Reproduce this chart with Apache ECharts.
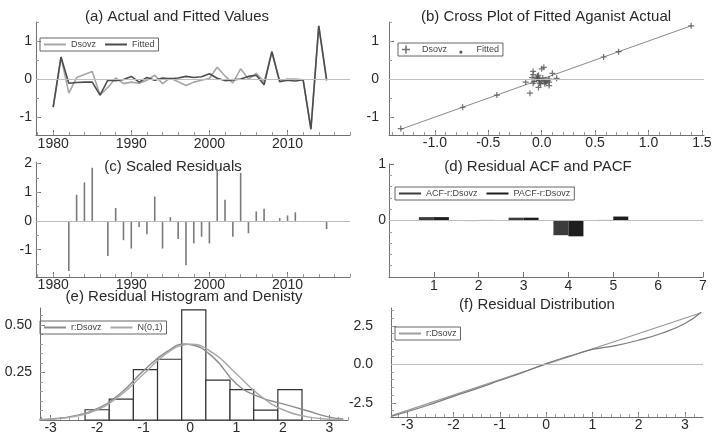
<!DOCTYPE html>
<html><head><meta charset="utf-8">
<script src="https://cdn.jsdelivr.net/npm/echarts@6/dist/echarts.min.js"></script>
<style>html,body{margin:0;padding:0;background:#fff}#c{width:715px;height:436px}</style>
</head><body><div id="c"></div>
<script>
// ---------- data ----------
const years = [1980,1981,1982,1983,1984,1985,1986,1987,1988,1989,1990,1991,1992,1993,1994,1995,1996,1997,1998,1999,2000,2001,2002,2003,2004,2005,2006,2007,2008,2009,2010,2011,2012,2013,2014,2015];
const dsovz = [-0.74,0.58,-0.37,0.04,0.12,0.20,-0.42,-0.22,0.03,-0.12,-0.08,-0.11,-0.03,0.10,-0.12,0.03,-0.07,-0.17,-0.08,-0.03,0.02,0.31,0.08,-0.10,0.27,0.00,0.15,-0.08,0.72,-0.06,0.00,0.00,-0.02,-1.30,1.40,-0.05];
const fitted = [-0.74,0.58,-0.11,-0.09,-0.08,-0.08,-0.42,-0.03,-0.04,-0.01,0.07,-0.08,0.04,-0.03,0.03,0.01,0.03,0.07,0.04,0.06,0.14,0.02,-0.04,-0.02,0.00,0.07,0.10,-0.15,0.72,-0.07,-0.03,-0.05,-0.02,-1.32,1.40,0.00];
const scaledResiduals = [0,0,-1.74,0.91,1.34,1.85,0,-1.22,0.45,-0.67,-0.96,-0.21,-0.46,0.85,-0.96,0.13,-0.63,-1.54,-0.78,-0.55,-0.78,1.81,0.74,-0.55,1.67,-0.43,0.33,0.42,0,0.10,0.19,0.30,0,0,0,-0.28];
const lags = [1,2,3,4,5];
const acf = [0.06,-0.01,0.05,-0.26,0.01];
const pacf = [0.06,0.01,0.05,-0.28,0.07];
const histEdges = [-2.26,-1.74,-1.22,-0.70,-0.18,0.34,0.86,1.37,1.89,2.41];
const histDensity = [0.054,0.11,0.265,0.32,0.58,0.21,0.16,0.052,0.16];
const densityX = [-3.3,-3.0,-2.5,-2.0,-1.5,-1.0,-0.5,-0.1,0.0,0.5,1.0,1.5,2.0,2.5,3.0,3.3];
const densityResid = [0.003,0.006,0.022,0.06,0.14,0.26,0.36,0.40,0.398,0.33,0.19,0.12,0.085,0.05,0.015,0.006];
const densityNormal = [0.002,0.004,0.018,0.054,0.13,0.242,0.352,0.397,0.399,0.352,0.242,0.13,0.054,0.018,0.004,0.002];
const qqNormal = [-3.35,-3.0,-2.5,-2.0,-1.5,-1.0,-0.5,0.0,0.5,1.0,1.5,2.0,2.5,3.0,3.35];
const qqResidual = [-3.38,-3.08,-2.6,-2.08,-1.58,-1.05,-0.52,0.05,0.53,0.97,1.22,1.57,2.02,2.65,3.38];
const yearTicks = [1980,1990,2000,2010];
const crossTicks = [-1.0,-0.5,0.0,0.5,1.0,1.5];
const unitTicks = [-1,0,1];
const residTicks = [-1,0,1,2];
const lagTicks = [1,2,3,4,5,6,7];
const histXTicks = [-3,-2,-1,0,1,2,3];
const histYTicks = [0.25,0.50];
const qqYTicks = [-2.5,0.0,2.5];
const titles = ['(a) Actual and Fitted Values','(b) Cross Plot of Fitted Aganist Actual','(c) Scaled Residuals','(d) Residual ACF and PACF','(e) Residual Histogram and Denisty','(f) Residual Distribution'];

// ---------- helpers ----------
const FONT = 'Liberation Sans';
const AX = '#707070';
const ZW = '\u200b';
function range(a, b, step) { const out = []; for (let v = a; v <= b + 1e-9; v += step) out.push(Math.round(v * 1000) / 1000); return out; }
function axis(gi, min, max, ticks, fmt, margin, pos) {
  return {
    type: 'value', gridIndex: gi, min: min, max: max, position: pos,
    axisLine: {show: true, onZero: false, lineStyle: {color: AX, width: 1}},
    axisTick: {show: true, inside: true, length: 5, customValues: ticks, lineStyle: {color: AX}},
    axisLabel: {customValues: ticks, formatter: fmt, margin: margin, color: '#2a2a2a', fontSize: 14, fontFamily: FONT},
    splitLine: {show: false}
  };
}
function minorAxis(gi, min, max, ticks, pos) {
  return {
    type: 'value', gridIndex: gi, min: min, max: max, position: pos, offset: 0,
    axisLine: {show: false, onZero: false},
    axisTick: {show: true, inside: true, length: 3, customValues: ticks, lineStyle: {color: '#9a9a9a'}},
    axisLabel: {show: false}, splitLine: {show: false}
  };
}
const f0 = v => String(v);
const f1 = v => v.toFixed(1);
const f2 = v => v.toFixed(2);
const zeroLine = {silent: true, symbol: 'none', label: {show: false}, lineStyle: {color: '#bdbdbd', type: 'solid', width: 1}, data: [{yAxis: 0}]};
function legend(left, top, names, icons, ih) {
  return {
    left: left, top: top, orient: 'horizontal',
    data: names.map((n, i) => ({name: n, icon: icons ? icons[i] : 'rect'})),
    itemWidth: 22, itemHeight: ih || 2, itemGap: 9,
    padding: [2, 4, 2, 4], borderColor: '#666', borderWidth: 1, borderRadius: 0,
    textStyle: {fontSize: 9, color: '#444', fontFamily: FONT},
    formatter: n => n.replace(/\u200b/g, ''),
    selectedMode: false
  };
}
const plusPath = 'path://M4,0H6V4H10V6H6V10H4V6H0V4H4Z';
const squarePath = 'path://M4,6H7V9H4Z M0,0H10V0.01H0Z';
const fSorted = fitted.slice().sort((a, b) => a - b);

const grids = [
  {left: 36, top: 22, width: 314, height: 113},
  {left: 389, top: 22, width: 315, height: 113},
  {left: 36, top: 162, width: 314, height: 115},
  {left: 389, top: 164, width: 314, height: 113},
  {left: 40, top: 308, width: 308, height: 112},
  {left: 391, top: 308, width: 312, height: 109}
];
const xr = [[1977.8, 2018], [-1.43, 1.52], [1977.8, 2018], [0, 7], [-3.23, 3.4], [-3.35, 3.39]];
const yr = [[-1.47, 1.5], [-1.47, 1.5], [-1.95, 2.05], [-1, 1], [0, 0.59], [-3.42, 3.66]];
const titlePos = [[177, 17], [546, 17], [173, 167], [538, 167], [184, 297], [537, 305]];

const option = {
  animation: false,
  backgroundColor: '#fff',
  grid: grids,
  xAxis: [
    axis(0, xr[0][0], xr[0][1], yearTicks, f0, 2, 'bottom'),
    axis(1, xr[1][0], xr[1][1], crossTicks, f1, 1, 'bottom'),
    axis(2, xr[2][0], xr[2][1], yearTicks, f0, 1, 'bottom'),
    axis(3, xr[3][0], xr[3][1], lagTicks, f0, 2, 'bottom'),
    axis(4, xr[4][0], xr[4][1], histXTicks, f0, 1, 'bottom'),
    axis(5, xr[5][0], xr[5][1], histXTicks, f0, 1, 'bottom'),
    minorAxis(0, xr[0][0], xr[0][1], range(1978, 2018, 2), 'bottom'),
    minorAxis(1, xr[1][0], xr[1][1], range(-1.4, 1.5, 0.1), 'bottom'),
    minorAxis(2, xr[2][0], xr[2][1], range(1978, 2018, 2), 'bottom'),
    minorAxis(4, xr[4][0], xr[4][1], range(-3.2, 3.4, 0.2), 'bottom'),
    minorAxis(5, xr[5][0], xr[5][1], range(-3.2, 3.2, 0.2), 'bottom')
  ],
  yAxis: [
    axis(0, yr[0][0], yr[0][1], unitTicks, f0, 4, 'left'),
    axis(1, yr[1][0], yr[1][1], unitTicks, f0, 10, 'left'),
    axis(2, yr[2][0], yr[2][1], residTicks, f0, 4, 'left'),
    axis(3, yr[3][0], yr[3][1], [0, 1], f0, 3, 'left'),
    axis(4, yr[4][0], yr[4][1], histYTicks, f2, 8, 'left'),
    axis(5, yr[5][0], yr[5][1], qqYTicks, f1, 18, 'left'),
    minorAxis(0, yr[0][0], yr[0][1], range(-1.5, 1.5, 0.5), 'left'),
    minorAxis(1, yr[1][0], yr[1][1], range(-1.5, 1.5, 0.5), 'left'),
    minorAxis(2, yr[2][0], yr[2][1], range(-1.5, 2, 0.5), 'left'),
    minorAxis(3, yr[3][0], yr[3][1], range(-0.8, 0.8, 0.2), 'left'),
    minorAxis(4, yr[4][0], yr[4][1], range(0.05, 0.55, 0.05), 'left'),
    minorAxis(5, yr[5][0], yr[5][1], range(-3, 3.5, 0.5), 'left')
  ],
  legend: [
    legend(40, 38, ['Dsovz', 'Fitted']),
    legend(398, 43, ['Dsovz' + ZW, 'Fitted' + ZW], [plusPath, squarePath], 8),
    legend(395, 187, ['ACF-r:Dsovz', 'PACF-r:Dsovz']),
    legend(40, 321, ['r:Dsovz', 'N(0,1)']),
    legend(395, 327, ['r:Dsovz' + ZW])
  ],
  graphic: titles.map((t, i) => ({
    type: 'text', x: titlePos[i][0], y: titlePos[i][1], silent: true,
    style: {text: t, align: 'center', verticalAlign: 'middle', fontSize: 15, fontFamily: FONT, fill: '#2a2a2a'}
  })),
  series: [
    // (a)
    {name: 'Dsovz', type: 'line', xAxisIndex: 0, yAxisIndex: 0, symbol: 'none',
     data: years.map((y, i) => [y, dsovz[i]]), lineStyle: {color: '#a6a6a6', width: 1.6}, itemStyle: {color: '#a6a6a6'},
     markLine: zeroLine, z: 2},
    {name: 'Fitted', type: 'line', xAxisIndex: 0, yAxisIndex: 0, symbol: 'none',
     data: years.map((y, i) => [y, fitted[i]]), lineStyle: {color: '#4d4d4d', width: 1.6}, itemStyle: {color: '#4d4d4d'}, z: 3},
    // (b)
    {name: 'Fitted' + ZW, type: 'line', xAxisIndex: 1, yAxisIndex: 1, symbol: 'none',
     data: [[fSorted[0], fSorted[0]], [fSorted[fSorted.length - 1], fSorted[fSorted.length - 1]]],
     lineStyle: {color: '#8a8a8a', width: 1}, itemStyle: {color: '#555'}, markLine: zeroLine},
    {name: 'Dsovz' + ZW, type: 'scatter', xAxisIndex: 1, yAxisIndex: 1, symbol: plusPath, symbolSize: 6,
     data: years.map((y, i) => [fitted[i], dsovz[i]]), itemStyle: {color: '#505050'}, z: 4},
    // (c)
    {name: 'resid', type: 'bar', xAxisIndex: 2, yAxisIndex: 2, barWidth: 1.6,
     data: years.map((y, i) => [y, scaledResiduals[i]]), itemStyle: {color: '#7a7a7a'}, markLine: zeroLine},
    // (d)
    {name: 'ACF-r:Dsovz', type: 'bar', xAxisIndex: 3, yAxisIndex: 3, barWidth: 15, barGap: '0%',
     data: lags.map((l, i) => [l, acf[i]]), itemStyle: {color: '#3c3c3c'}, markLine: zeroLine},
    {name: 'PACF-r:Dsovz', type: 'bar', xAxisIndex: 3, yAxisIndex: 3, barWidth: 15, barGap: '0%',
     data: lags.map((l, i) => [l, pacf[i]]), itemStyle: {color: '#1e1e1e'}},
    // (e)
    {name: 'hist', type: 'custom', xAxisIndex: 4, yAxisIndex: 4,
     data: histDensity.map((h, i) => [histEdges[i], histEdges[i + 1], h]),
     encode: {x: [0, 1], y: 2},
     renderItem: (params, api) => {
       const p0 = api.coord([api.value(0), 0]);
       const p1 = api.coord([api.value(1), api.value(2)]);
       return {type: 'rect', shape: {x: p0[0], y: p1[1], width: p1[0] - p0[0], height: p0[1] - p1[1]},
               style: {fill: '#fff', stroke: '#333', lineWidth: 1.2}};
     }, z: 1},
    {name: 'r:Dsovz', type: 'line', xAxisIndex: 4, yAxisIndex: 4, symbol: 'none', smooth: true,
     data: densityX.map((x, i) => [x, densityResid[i]]), lineStyle: {color: '#8c8c8c', width: 1.4}, itemStyle: {color: '#8c8c8c'}, z: 3},
    {name: 'N(0,1)', type: 'line', xAxisIndex: 4, yAxisIndex: 4, symbol: 'none', smooth: true,
     data: densityX.map((x, i) => [x, densityNormal[i]]), lineStyle: {color: '#a8a8a8', width: 1.4}, itemStyle: {color: '#a8a8a8'}, z: 3},
    // (f)
    {name: 'ref', type: 'line', xAxisIndex: 5, yAxisIndex: 5, symbol: 'none',
     data: [[qqNormal[0], qqNormal[0]], [qqNormal[qqNormal.length - 1], qqNormal[qqNormal.length - 1]]],
     lineStyle: {color: '#9a9a9a', width: 1.2}, markLine: zeroLine},
    {name: 'r:Dsovz' + ZW, type: 'line', xAxisIndex: 5, yAxisIndex: 5, symbol: 'none', smooth: true,
     data: qqNormal.map((x, i) => [x, qqResidual[i]]), lineStyle: {color: '#7a7a7a', width: 1.2}, itemStyle: {color: '#a0a0a0'}}
  ]
};
const chart = echarts.init(document.getElementById('c'), null, {renderer: 'canvas'});
chart.setOption(option);
</script></body></html>
